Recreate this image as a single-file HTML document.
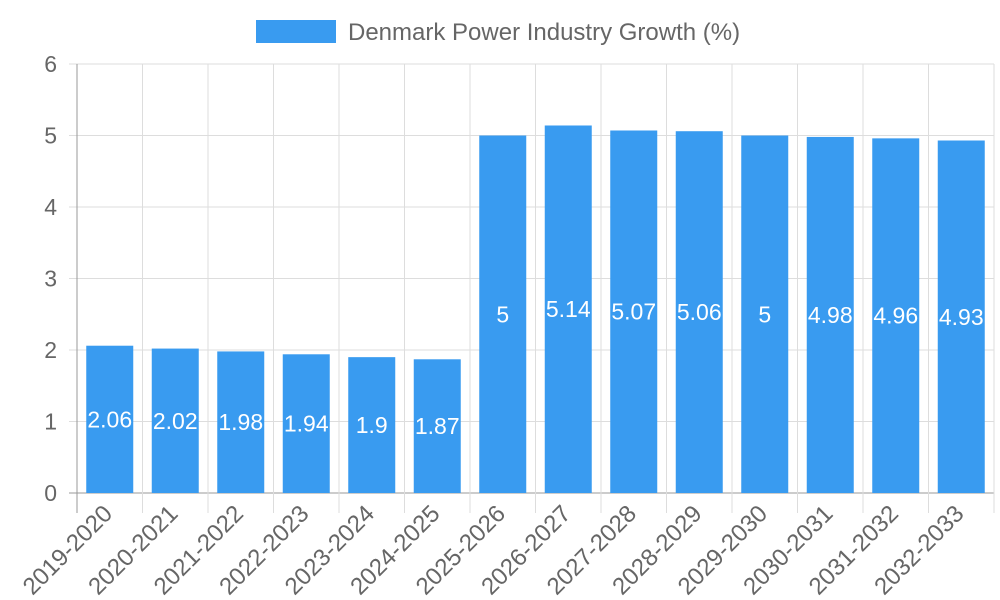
<!DOCTYPE html>
<html><head><meta charset="utf-8"><style>
body{margin:0;background:#fff;}
svg{display:block;font-family:"Liberation Sans",sans-serif;}
</style></head><body>
<svg id="chart" width="1000" height="600">
<g>
<rect x="256" y="20" width="80" height="23" fill="#399bf0"/>
<text x="348" y="40" font-size="24" fill="#666">Denmark Power Industry Growth (%)</text>
</g>
<g id="grid"></g><g id="bars"></g><g id="labels"></g>
</svg>
<script>
const categories=["2019-2020","2020-2021","2021-2022","2022-2023","2023-2024","2024-2025","2025-2026","2026-2027","2027-2028","2028-2029","2029-2030","2030-2031","2031-2032","2032-2033"];
const values=[2.06,2.02,1.98,1.94,1.9,1.87,5,5.14,5.07,5.06,5,4.98,4.96,4.93];
const yTicks=[0,1,2,3,4,5,6];
const NS="http://www.w3.org/2000/svg";
const X0=77,X1=994,Y0=493,Y1=64,YMAX=6;
const bw=(X1-X0)/categories.length;
const y=v=>Y0-(v/YMAX)*(Y0-Y1);
const xc=i=>X0+bw*(i+0.5);
function mk(t,a,p){const e=document.createElementNS(NS,t);for(const k in a)e.setAttribute(k,a[k]);p.appendChild(e);return e;}
const grid=document.getElementById('grid'),bars=document.getElementById('bars'),labels=document.getElementById('labels');
yTicks.forEach(t=>{
 const l=mk('line',{x1:69,x2:X1,y1:y(t),y2:y(t),stroke:t===0?'#999':'#ddd','stroke-width':1},grid);
 
 
 const tx=mk('text',{x:57,y:y(t)+8,'text-anchor':'end','font-size':23,fill:'#666'},grid);
 tx.textContent=t;
 
 
});
for(let i=0;i<=categories.length;i++){
 const x=X0+bw*i;
 const l=mk('line',{x1:x,x2:x,y1:Y1,y2:Y0+20,stroke:i===0?'#999':'#ddd','stroke-width':1},grid);
 
 
}
categories.forEach((c,i)=>{
 const v=values[i],w=47;
 const r=mk('rect',{x:xc(i)-w/2,y:y(v),width:w,height:Y0-y(v),fill:'#399bf0'},bars);
 
 
 const t=mk('text',{x:xc(i),y:(y(v)+Y0)/2+8,'text-anchor':'middle','font-size':23,fill:'#fff'},labels);
 t.textContent=v;
 
 
 const ax=xc(i)+4,ay=515;
 const xl=mk('text',{x:ax,y:ay,'text-anchor':'end','font-size':24,fill:'#666',transform:`rotate(-45 ${ax} ${ay})`},labels);
 xl.textContent=c;
 
 
});
</script>
</body></html>
